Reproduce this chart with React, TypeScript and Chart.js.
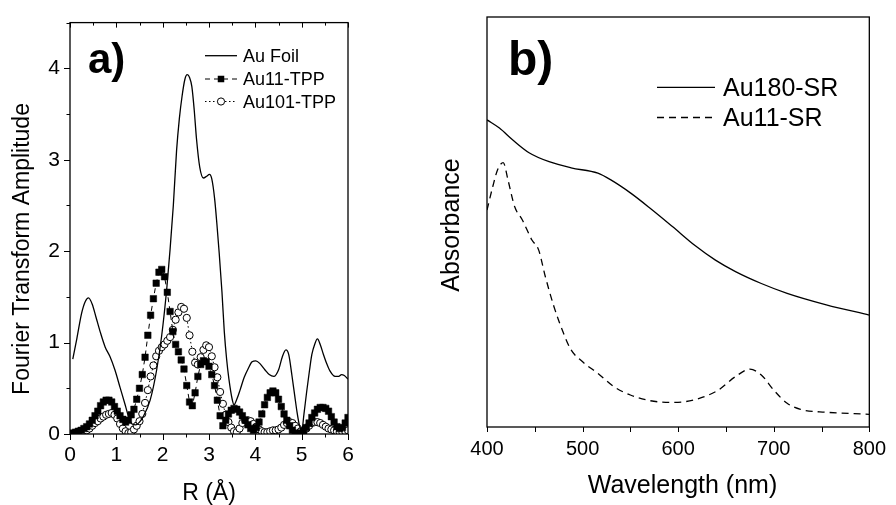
import React, { useEffect, useRef } from 'react';
import { Chart, registerables } from 'chart.js';

Chart.register(...registerables);

const FONT = "'Liberation Sans', Arial, Helvetica, sans-serif";

// ---------- Panel a: Fourier transform amplitude vs R ----------
const rGrid = [
  0, 0.06, 0.12, 0.18, 0.24, 0.3, 0.36, 0.42, 0.48, 0.54,
  0.6, 0.66, 0.72, 0.78, 0.84, 0.9, 0.96, 1.02, 1.08, 1.14,
  1.2, 1.26, 1.32, 1.38, 1.44, 1.5, 1.56, 1.62, 1.68, 1.74,
  1.8, 1.86, 1.92, 1.98, 2.04, 2.1, 2.16, 2.22, 2.28, 2.34,
  2.4, 2.46, 2.52, 2.58, 2.64, 2.7, 2.76, 2.82, 2.88, 2.94,
  3, 3.06, 3.12, 3.18, 3.24, 3.3, 3.36, 3.42, 3.48, 3.54,
  3.6, 3.66, 3.72, 3.78, 3.84, 3.9, 3.96, 4.02, 4.08, 4.14,
  4.2, 4.26, 4.32, 4.38, 4.44, 4.5, 4.56, 4.62, 4.68, 4.74,
  4.8, 4.86, 4.92, 4.98, 5.04, 5.1, 5.16, 5.22, 5.28, 5.34,
  5.4, 5.46, 5.52, 5.58, 5.64, 5.7, 5.76, 5.82, 5.88, 5.94,
  6,
];

const au11Tpp = [
  0.0, 0.01, 0.02, 0.03, 0.04, 0.06, 0.08, 0.11, 0.15, 0.2,
  0.25, 0.31, 0.35, 0.37, 0.37, 0.35, 0.3, 0.25, 0.2, 0.16,
  0.13, 0.15, 0.21, 0.27, 0.38, 0.5, 0.65, 0.84, 1.08, 1.3,
  1.48, 1.65, 1.77, 1.8, 1.72, 1.55, 1.34, 1.12, 0.98, 0.9,
  0.81, 0.71, 0.53, 0.35, 0.31, 0.45, 0.63, 0.76, 0.8, 0.79,
  0.74, 0.65, 0.53, 0.37, 0.2, 0.09, 0.15, 0.22, 0.26, 0.28,
  0.27, 0.24, 0.2, 0.15, 0.1, 0.06, 0.04, 0.07, 0.13, 0.22,
  0.32, 0.4, 0.45, 0.47, 0.45, 0.38, 0.3, 0.22, 0.15, 0.09,
  0.04, 0.01, 0.0, 0.01, 0.03, 0.07, 0.12, 0.18, 0.23, 0.27,
  0.29, 0.29, 0.28, 0.25, 0.19, 0.13, 0.08, 0.06, 0.07, 0.12,
  0.18,
];

const au101Tpp = [
  0.0, 0.0, 0.01, 0.01, 0.02, 0.03, 0.04, 0.06, 0.09, 0.12,
  0.14, 0.17, 0.19, 0.21, 0.22, 0.23, 0.21, 0.17, 0.11, 0.06,
  0.03, 0.01, 0.02, 0.05, 0.09, 0.14, 0.22, 0.34, 0.48, 0.63,
  0.75, 0.85, 0.91, 0.95, 0.98, 1.02, 1.06, 1.14, 1.25, 1.33,
  1.39, 1.37, 1.27, 1.08, 0.9, 0.78, 0.76, 0.84, 0.92, 0.97,
  0.95, 0.85, 0.73, 0.62, 0.46, 0.33, 0.21, 0.13, 0.07, 0.03,
  0.02, 0.06, 0.12, 0.15, 0.15, 0.14, 0.11, 0.08, 0.05, 0.03,
  0.02, 0.02, 0.03, 0.04, 0.04, 0.05, 0.07, 0.1, 0.12, 0.13,
  0.12, 0.09, 0.06, 0.03, 0.03, 0.06, 0.09, 0.12, 0.13, 0.13,
  0.12, 0.1, 0.08, 0.06, 0.05, 0.04, 0.03, 0.02, 0.02, 0.03,
  0.04,
];

const foilR = [
  0.06, 0.15, 0.25, 0.33, 0.4, 0.48, 0.56, 0.65, 0.76, 0.86,
  0.97, 1.08, 1.19, 1.27, 1.34, 1.42, 1.5, 1.58, 1.73, 1.87,
  1.98, 2.09, 2.16, 2.23, 2.3, 2.36, 2.42, 2.48, 2.53, 2.58,
  2.63, 2.68, 2.73, 2.8, 2.88, 2.95, 3.01, 3.06, 3.12, 3.17,
  3.22, 3.28, 3.33, 3.38, 3.43, 3.5, 3.54, 3.6, 3.67, 3.76,
  3.85, 3.93, 4.01, 4.1, 4.21, 4.3, 4.4, 4.5, 4.58, 4.66,
  4.72, 4.79, 4.85, 4.9, 4.95, 5.0, 5.05, 5.11, 5.17, 5.22,
  5.28, 5.34, 5.4, 5.47, 5.54, 5.61, 5.72, 5.8, 5.86, 5.92, 6.0,
];

const foilAmp = [
  0.82, 1.05, 1.32, 1.45, 1.49, 1.42, 1.28, 1.12, 0.95, 0.85,
  0.7, 0.51, 0.32, 0.18, 0.11, 0.1, 0.13, 0.19, 0.37, 0.7,
  1.08, 1.6, 2.02, 2.5, 3.1, 3.45, 3.7, 3.88, 3.93, 3.9,
  3.8, 3.55, 3.23, 2.92, 2.8, 2.82, 2.84, 2.79, 2.58, 2.3,
  1.98, 1.55, 1.12, 0.82, 0.6, 0.38, 0.32, 0.38, 0.48, 0.62,
  0.72, 0.79, 0.8, 0.77, 0.7, 0.65, 0.63, 0.7, 0.84, 0.92,
  0.87, 0.64, 0.42, 0.24, 0.1, 0.03, 0.22, 0.47, 0.7, 0.87,
  0.98, 1.04, 0.98, 0.87, 0.77, 0.69, 0.63, 0.63, 0.65, 0.64, 0.6,
];

const rTickLabels = [0, 1, 2, 3, 4, 5, 6];
const ampTickLabels = [0, 1, 2, 3, 4];

// ---------- Panel b: absorbance vs wavelength ----------
const au180Wl = [400, 413, 427, 444, 465, 488, 516, 530, 550, 571, 594, 618, 639, 660, 687, 714, 755, 800];
const au180Abs = [0.749, 0.729, 0.7, 0.669, 0.647, 0.632, 0.619, 0.602, 0.571, 0.533, 0.489, 0.442, 0.407, 0.379, 0.35, 0.326, 0.298, 0.273];

const au11SrWl = [400, 406, 411, 417, 422, 429, 437, 447, 454, 461, 470, 480, 488, 500, 516, 533, 550, 571, 591, 608, 625, 642, 660, 675, 687, 700, 714, 728, 755, 800];
const au11SrAbs = [0.529, 0.586, 0.627, 0.645, 0.602, 0.537, 0.505, 0.456, 0.432, 0.367, 0.294, 0.229, 0.188, 0.159, 0.131, 0.098, 0.078, 0.064, 0.06, 0.062, 0.072, 0.09, 0.123, 0.141, 0.127, 0.09, 0.058, 0.043, 0.036, 0.031];

const wlTickLabels = [400, 500, 600, 700, 800];

const toXY = (xs: number[], ys: number[]) => xs.map((x, i) => ({ x, y: ys[i] }));

const isLabelled = (labels: number[], v: number) =>
  labels.some((l) => Math.abs(l - v) < 1e-6);

// Frame and tick marks plugin (positions from the chart scales)
const frameTicks = {
  id: 'frameTicks',
  afterDatasetsDraw(chart: any, _args: any, o: any) {
    const { ctx, chartArea: a } = chart;
    const xs = chart.scales.x;
    const ys = chart.scales.y;
    ctx.save();
    ctx.strokeStyle = '#000';
    ctx.lineWidth = 1.3;
    ctx.strokeRect(a.left, a.top, a.right - a.left, a.bottom - a.top);
    ctx.lineWidth = 1;
    ctx.beginPath();
    if (o.bottom) {
      xs.ticks.forEach((t: any) => {
        const p = Math.round(xs.getPixelForValue(t.value)) + 0.5;
        const len = isLabelled(o.xLabels, t.value) ? o.bottom[0] : o.bottom[1];
        ctx.moveTo(p, a.bottom);
        ctx.lineTo(p, a.bottom + len);
      });
    }
    if (o.top) {
      xs.ticks.forEach((t: any) => {
        const p = Math.round(xs.getPixelForValue(t.value)) + 0.5;
        const len = isLabelled(o.xLabels, t.value) ? o.top[0] : o.top[1];
        ctx.moveTo(p, a.top);
        ctx.lineTo(p, a.top + len);
      });
    }
    if (o.left) {
      ys.ticks.forEach((t: any) => {
        const p = Math.round(ys.getPixelForValue(t.value)) + 0.5;
        const len = isLabelled(o.yLabels, t.value) ? o.left[0] : o.left[1];
        ctx.moveTo(a.left, p);
        ctx.lineTo(a.left - len, p);
      });
    }
    ctx.stroke();
    ctx.restore();
  },
};

// Titles, panel letter and legend plugin
const annot = {
  id: 'annot',
  afterDraw(chart: any, _args: any, o: any) {
    const ctx = chart.ctx;
    ctx.save();
    ctx.fillStyle = '#000';
    ctx.textBaseline = 'alphabetic';

    ctx.font = `bold ${o.letterSize}px ${FONT}`;
    ctx.textAlign = 'left';
    ctx.fillText(o.letter, o.letterX, o.letterY);

    ctx.font = `${o.titleSize}px ${FONT}`;
    ctx.textAlign = 'center';
    ctx.fillText(o.xTitle, o.xTitleX, o.xTitleY);

    ctx.save();
    ctx.translate(o.yTitleX, o.yTitleY);
    ctx.rotate(-Math.PI / 2);
    ctx.fillText(o.yTitle, 0, 0);
    ctx.restore();

    ctx.font = `${o.legendSize}px ${FONT}`;
    ctx.textAlign = 'left';
    chart.data.datasets.forEach((ds: any, i: number) => {
      const y = o.legendY[i];
      ctx.save();
      ctx.strokeStyle = '#000';
      ctx.lineWidth = ds.borderWidth;
      ctx.setLineDash(ds.borderDash || []);
      ctx.beginPath();
      ctx.moveTo(o.legendX0, y);
      ctx.lineTo(o.legendX1, y);
      ctx.stroke();
      ctx.setLineDash([]);
      const mx = (o.legendX0 + o.legendX1) / 2;
      if (ds.pointRadius > 0) {
        if (ds.pointStyle === 'rect') {
          const s = ds.pointRadius * Math.SQRT1_2;
          ctx.fillStyle = '#000';
          ctx.fillRect(mx - s, y - s, 2 * s, 2 * s);
        } else {
          ctx.beginPath();
          ctx.arc(mx, y, ds.pointRadius, 0, Math.PI * 2);
          ctx.fillStyle = '#fff';
          ctx.fill();
          ctx.lineWidth = ds.pointBorderWidth;
          ctx.stroke();
        }
      }
      ctx.restore();
      ctx.fillText(ds.label, o.legendTextX, y + o.legendSize * 0.358);
    });
    ctx.restore();
  },
};

const tickFont = (size: number) => ({ family: FONT, size });

function buildA(canvas: HTMLCanvasElement) {
  return new Chart(canvas, {
    type: 'line',
    data: {
      datasets: [
        {
          label: 'Au Foil',
          data: toXY(foilR, foilAmp),
          borderColor: '#000',
          borderWidth: 1.3,
          pointRadius: 0,
          cubicInterpolationMode: 'monotone',
          fill: false,
        },
        {
          label: 'Au11-TPP',
          data: toXY(rGrid, au11Tpp),
          borderColor: '#000',
          borderWidth: 1,
          borderDash: [5, 4],
          pointStyle: 'rect',
          pointRadius: 4.6,
          pointBackgroundColor: '#000',
          pointBorderColor: '#000',
          pointBorderWidth: 0.5,
          fill: false,
        },
        {
          label: 'Au101-TPP',
          data: toXY(rGrid, au101Tpp),
          borderColor: '#000',
          borderWidth: 1,
          borderDash: [1.5, 2.5],
          pointStyle: 'circle',
          pointRadius: 3.6,
          pointBackgroundColor: '#fff',
          pointBorderColor: '#000',
          pointBorderWidth: 1,
          fill: false,
        },
      ],
    } as any,
    options: {
      responsive: false,
      animation: false,
      devicePixelRatio: 1,
      events: [],
      layout: { padding: { left: 0, top: 15, right: 62, bottom: 0 } },
      plugins: {
        legend: { display: false },
        tooltip: { enabled: false },
        frameTicks: {
          xLabels: rTickLabels,
          yLabels: ampTickLabels,
          bottom: [6, 3.5],
          top: [5, 3],
          left: [6, 3.5],
        },
        annot: {
          letter: 'a)',
          letterSize: 42,
          letterX: 88,
          letterY: 73,
          titleSize: 23,
          xTitle: 'R (Å)',
          xTitleX: 209,
          xTitleY: 500,
          yTitle: 'Fourier Transform Amplitude',
          yTitleX: 28.5,
          yTitleY: 249,
          legendSize: 18,
          legendX0: 205,
          legendX1: 237,
          legendTextX: 243,
          legendY: [55.7, 79, 101.5],
        },
      } as any,
      scales: {
        x: {
          type: 'linear',
          min: 0,
          max: 6,
          afterFit: (s: any) => {
            s.height = 71;
          },
          grid: { display: false, drawTicks: false },
          border: { display: false },
          ticks: {
            stepSize: 0.5,
            autoSkip: false,
            maxRotation: 0,
            padding: 9,
            color: '#000',
            font: tickFont(21),
            callback: (v: any) => (isLabelled(rTickLabels, v) ? String(Math.round(v)) : ''),
          },
        },
        y: {
          type: 'linear',
          min: 0,
          max: 4.5,
          afterFit: (s: any) => {
            s.width = 70;
          },
          grid: { display: false, drawTicks: false },
          border: { display: false },
          ticks: {
            stepSize: 0.5,
            autoSkip: false,
            padding: 10,
            color: '#000',
            font: tickFont(21),
            callback: (v: any) => (isLabelled(ampTickLabels, v) ? String(Math.round(v)) : ''),
          },
        },
      },
    } as any,
    plugins: [frameTicks, annot] as any,
  });
}

function buildB(canvas: HTMLCanvasElement) {
  return new Chart(canvas, {
    type: 'line',
    data: {
      datasets: [
        {
          label: 'Au180-SR',
          data: toXY(au180Wl, au180Abs),
          borderColor: '#000',
          borderWidth: 1.3,
          pointRadius: 0,
          cubicInterpolationMode: 'monotone',
          fill: false,
        },
        {
          label: 'Au11-SR',
          data: toXY(au11SrWl, au11SrAbs),
          borderColor: '#000',
          borderWidth: 1.3,
          borderDash: [7, 5],
          pointRadius: 0,
          cubicInterpolationMode: 'monotone',
          fill: false,
        },
      ],
    } as any,
    options: {
      responsive: false,
      animation: false,
      devicePixelRatio: 1,
      events: [],
      layout: { padding: { left: 0, top: 17, right: 19, bottom: 0 } },
      plugins: {
        legend: { display: false },
        tooltip: { enabled: false },
        frameTicks: {
          xLabels: wlTickLabels,
          yLabels: [],
          bottom: [5, 5],
        },
        annot: {
          letter: 'b)',
          letterSize: 48,
          letterX: 98,
          letterY: 75,
          titleSize: 25,
          xTitle: 'Wavelength (nm)',
          xTitleX: 272.5,
          xTitleY: 493,
          yTitle: 'Absorbance',
          yTitleX: 49,
          yTitleY: 225,
          legendSize: 25,
          legendX0: 247,
          legendX1: 305,
          legendTextX: 313,
          legendY: [87.3, 117.5],
        },
      } as any,
      scales: {
        x: {
          type: 'linear',
          min: 400,
          max: 800,
          afterFit: (s: any) => {
            s.height = 78;
          },
          grid: { display: false, drawTicks: false },
          border: { display: false },
          ticks: {
            stepSize: 50,
            autoSkip: false,
            maxRotation: 0,
            padding: 10,
            color: '#000',
            font: tickFont(20),
            callback: (v: any) => (isLabelled(wlTickLabels, v) ? String(Math.round(v)) : ''),
          },
        },
        y: {
          type: 'linear',
          min: 0,
          max: 1,
          afterFit: (s: any) => {
            s.width = 77;
          },
          grid: { display: false, drawTicks: false },
          border: { display: false },
          ticks: { display: false },
        },
      },
    } as any,
    plugins: [frameTicks, annot] as any,
  });
}

export default function App() {
  const refA = useRef<HTMLCanvasElement | null>(null);
  const refB = useRef<HTMLCanvasElement | null>(null);

  useEffect(() => {
    const a = refA.current ? buildA(refA.current) : null;
    const b = refB.current ? buildB(refB.current) : null;
    return () => {
      if (a) a.destroy();
      if (b) b.destroy();
    };
  }, []);

  return (
    <div
      style={{
        position: 'absolute',
        left: 0,
        top: 0,
        width: 896,
        height: 505,
        background: '#fff',
        overflow: 'hidden',
      }}
    >
      <canvas
        ref={refA}
        width={410}
        height={505}
        style={{ position: 'absolute', left: 0, top: 0, width: 410, height: 505 }}
      />
      <canvas
        ref={refB}
        width={486}
        height={505}
        style={{ position: 'absolute', left: 410, top: 0, width: 486, height: 505 }}
      />
    </div>
  );
}
